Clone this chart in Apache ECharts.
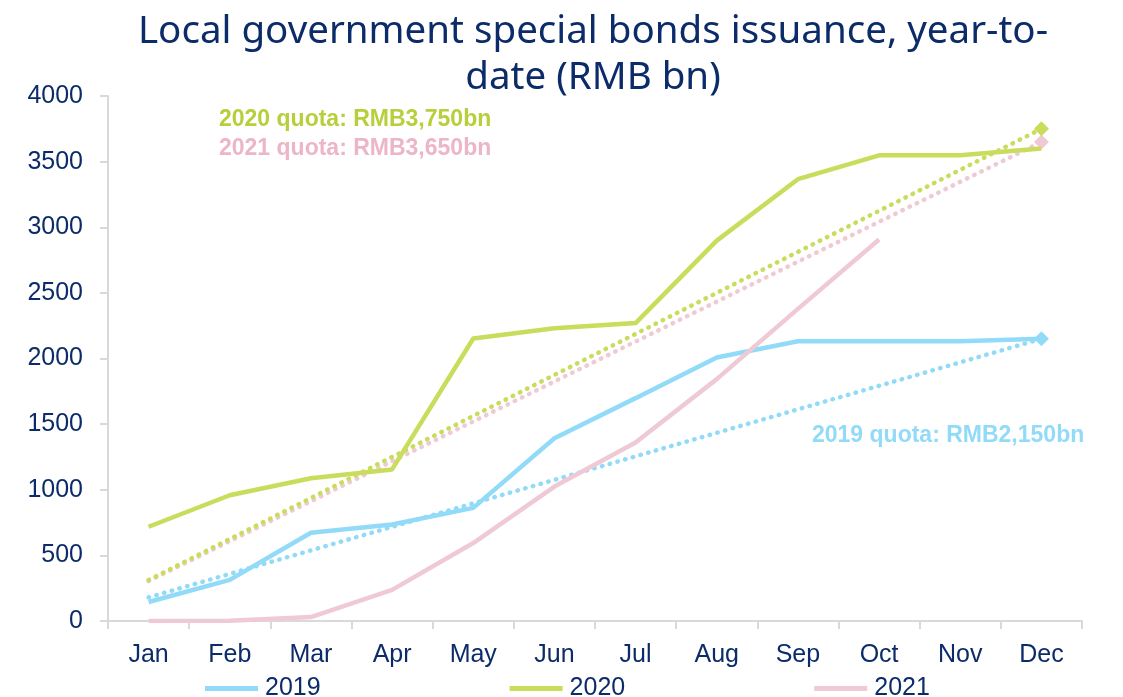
<!DOCTYPE html>
<html>
<head>
<meta charset="utf-8">
<script src="https://cdn.jsdelivr.net/npm/echarts@6/dist/echarts.min.js"></script>
<style>html,body{margin:0;padding:0;background:#fff}#c{width:1123px;height:697px}</style>
</head>
<body>
<div id="c"></div>
<script>
const months = ['Jan','Feb','Mar','Apr','May','Jun','Jul','Aug','Sep','Oct','Nov','Dec'];
const yTicks = [0,500,1000,1500,2000,2500,3000,3500,4000];
const ytd2019 = [145, 313, 672, 735, 862, 1392, 1698, 2008, 2132, 2132, 2132, 2150];
const ytd2020 = [718, 958, 1088, 1155, 2152, 2230, 2270, 2898, 3366, 3548, 3548, 3600];
const ytd2021 = [0, 2, 30, 237, 594, 1024, 1360, 1843, 2378, 2907];
const quota2019 = [180, null, null, null, null, null, null, null, null, null, null, 2150];
const quota2020 = [312, null, null, null, null, null, null, null, null, null, null, 3750];
const quota2021 = [304, null, null, null, null, null, null, null, null, null, null, 3650];
const quotaLabels = ['2019 quota: RMB2,150bn','2020 quota: RMB3,750bn','2021 quota: RMB3,650bn'];

const navy = '#0c2b69';
const c19 = '#92dbf8', c20 = '#c9dc5c', c21 = '#efcad5';
const font = '"Liberation Sans", Arial, sans-serif';

function solid(name, data, color){
  return {name, type:'line', data, symbol:'none', smooth:false,
    lineStyle:{color, width:4.5}, itemStyle:{color}, z:3};
}
function dotted(name, data, color){
  return {name, type:'line', data, connectNulls:true, symbol:'diamond',
    symbolSize:(v,p)=> p.dataIndex===11 ? 15 : 0,
    lineStyle:{color, width:4.5, type:[0.5,7.5], cap:'round'},
    itemStyle:{color}, z:2};
}

const chart = echarts.init(document.getElementById('c'), null, {renderer:'canvas'});
chart.setOption({
  animation:false,
  backgroundColor:'#fff',
  title:{
    text:'Local government special bonds issuance, year-to-\ndate (RMB bn)',
    left:588, top:4, textAlign:'center',
    textStyle:{fontFamily:'"Noto Sans", sans-serif', fontWeight:'normal', fontSize:38.5, lineHeight:46, color:navy}
  },
  grid:{left:108, right:41, top:96, bottom:76, containLabel:false},
  legend:{
    data:['2019','2020','2021'], icon:'rect', itemWidth:53, itemHeight:5, itemGap:189,
    left:200, top:671,
    textStyle:{fontFamily:font, fontSize:25, color:navy, padding:[0,0,0,2]}
  },
  xAxis:{
    type:'category', data:months, boundaryGap:true,
    axisLine:{lineStyle:{color:'#d9d9d9', width:2}},
    axisTick:{show:true, length:8, lineStyle:{color:'#d9d9d9', width:2}},
    axisLabel:{fontFamily:font, fontSize:25, color:navy, margin:22}
  },
  yAxis:{
    type:'value', min:0, max:4000, interval:500,
    axisLine:{show:true, lineStyle:{color:'#d9d9d9', width:2}},
    axisTick:{show:true, length:8, lineStyle:{color:'#d9d9d9', width:2}},
    splitLine:{show:false},
    axisLabel:{fontFamily:font, fontSize:25, color:navy, margin:25,
      formatter:(v)=> yTicks.includes(v) ? String(v) : ''}
  },
  graphic:[
    {type:'text', left:219, top:108, style:{text:quotaLabels[1], font:'bold 23px '+font, fill:'#b8cf3c'}},
    {type:'text', left:219, top:137, style:{text:quotaLabels[2], font:'bold 23px '+font, fill:'#ecb6c7'}},
    {type:'text', left:812, top:424, style:{text:quotaLabels[0], font:'bold 23px '+font, fill:'#92dbf8'}}
  ],
  series:[
    dotted('2019 quota', quota2019, c19),
    dotted('2021 quota', quota2021, c21),
    dotted('2020 quota', quota2020, c20),
    solid('2019', ytd2019, c19),
    solid('2020', ytd2020, c20),
    solid('2021', ytd2021, c21)
  ]
});
</script>
</body>
</html>
